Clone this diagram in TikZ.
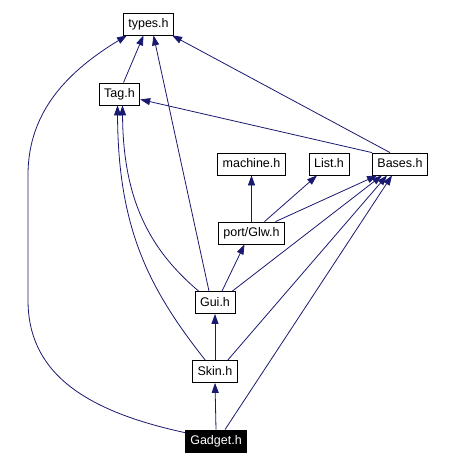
\documentclass[tikz,border=0pt]{standalone}
\usepackage{fontspec}
\setmainfont{Liberation Sans}
\usepackage{tikz}
\usetikzlibrary{arrows.meta, calc}
\usepackage{xcolor}
\definecolor{inclblue}{RGB}{25, 25, 112}
\tikzset{
  hfile/.style={draw=black, line width=0.8pt, fill=white, inner xsep=5pt, inner ysep=5pt,
                text height=9.5pt, text depth=2.5pt, font=\fontsize{12.5}{15}\selectfont},
  hmain/.style={hfile, fill=black, text=white},
  incl/.style={draw=inclblue, line width=0.8pt, -{Triangle[length=10pt, width=7pt]}}
}

\begin{document}
\begin{tikzpicture}[x=1pt, y=-1pt]
  \useasboundingbox (0,0) rectangle (452,465);

  % header files
  \node[hfile] (types)   at (148.5, 24)  {types.h};
  \node[hfile] (tag)     at (119.5, 94)  {Tag.h};
  \node[hfile] (machine) at (251.5, 164) {machine.h};
  \node[hfile] (list)    at (329, 164)   {List.h};
  \node[hfile] (bases)   at (400, 164)   {Bases.h};
  \node[hfile] (glw)     at (251.5, 233) {port/Glw.h};
  \node[hfile] (gui)     at (215, 302.5) {Gui.h};
  \node[hfile] (skin)    at (215, 371.5) {Skin.h};
  \node[hmain] (gadget)  at (216, 441)   {Gadget.h};

  % include edges
  \draw[incl] ($(tag.north)+(4,0)$) -- ($(types.south)+(-5,0)$);
  \draw[incl] ($(gui.north)+(-6,0)$) -- ($(types.south)+(5,0)$);
  \draw[incl] ($(bases.north)+(-10,0)$) -- ($(types.south east)+(-2,0)$);
  \draw[incl] ($(gadget.north west)+(0,3)$) .. controls (80,410) and (28,370) .. (28,300)
              -- (28,175) .. controls (28,110) and (70,70) .. ($(types.south west)+(4,0)$);

  \draw[incl] (bases.north west) -- ($(tag.south east)+(0,-6)$);
  \draw[incl] ($(gui.north west)+(4,0)$) .. controls (150,250) and (123,200) .. ($(tag.south)+(3,0)$);
  \draw[incl] ($(skin.north west)+(13,0)$) .. controls (150,290) and (118,230) .. ($(tag.south)+(-2,0)$);

  \draw[incl] (glw.north) -- (machine.south);
  \draw[incl] ($(glw.north)+(13,0)$) -- ($(list.south)+(-12,0)$);
  \draw[incl] ($(glw.north)+(24,0)$) -- ($(bases.south west)+(5,0)$);

  \draw[incl] ($(gui.north)+(7,0)$) -- ($(glw.south)+(-7,0)$);
  \draw[incl] ($(gui.north east)+(-3,0)$) -- ($(bases.south west)+(10,0)$);
  \draw[incl] ($(skin.north east)+(-10,0)$) -- ($(bases.south west)+(15,0)$);
  \draw[incl] ($(gadget.north)+(9,0)$) -- ($(bases.south west)+(20,0)$);

  \draw[incl] (skin.north) -- (gui.south);
  \draw[incl] (gadget.north) -- (skin.south);
\end{tikzpicture}
\end{document}
